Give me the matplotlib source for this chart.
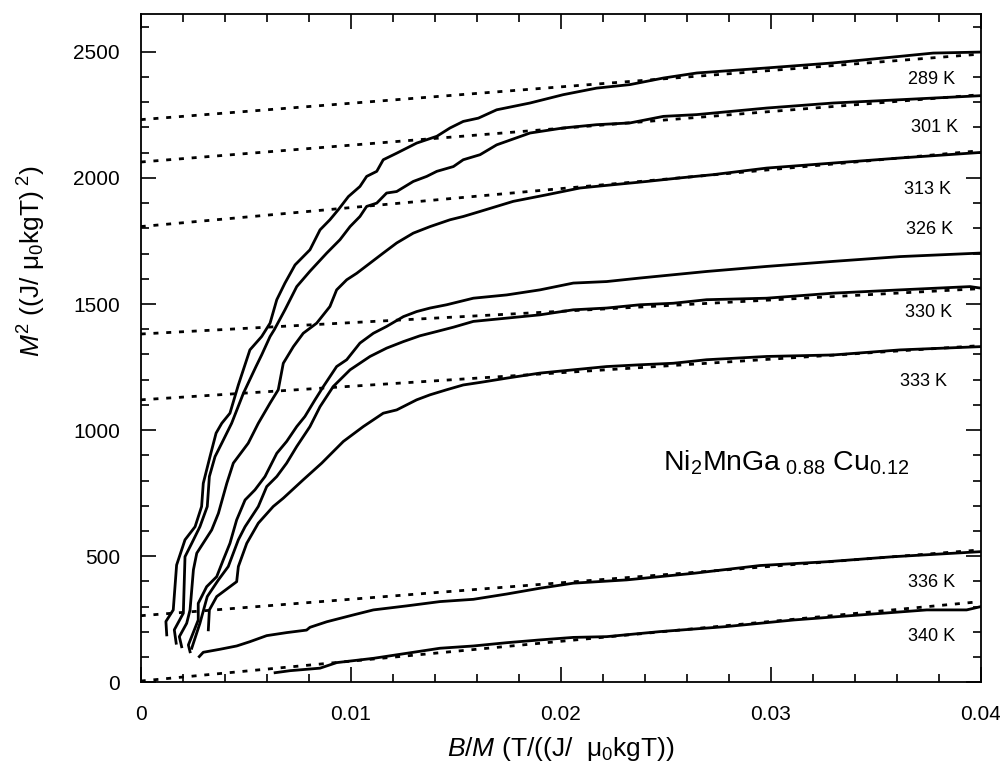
import numpy as np
import matplotlib
matplotlib.use('Agg')
import matplotlib.pyplot as plt
from matplotlib.ticker import MultipleLocator

plt.rcParams['font.family'] = ['Liberation Sans', 'DejaVu Sans']
plt.rcParams['mathtext.fontset'] = 'custom'
plt.rcParams['mathtext.rm'] = 'Liberation Sans'
plt.rcParams['mathtext.it'] = 'Liberation Sans:italic'

# measured Arrott curves  (B/M, M^2)
x289 = [0.00124, 0.00120, 0.00155, 0.00171, 0.00211, 0.00259, 0.00290, 0.00298, 0.00330, 0.00359, 0.00386,
        0.00425, 0.00465, 0.00520, 0.00576, 0.00616, 0.00648, 0.00687, 0.00735, 0.00806, 0.00854, 0.00901,
        0.00941, 0.00989, 0.01044, 0.01076, 0.01124, 0.01155, 0.01219, 0.01314, 0.01410, 0.01473, 0.01536,
        0.01608, 0.01695, 0.01854, 0.02012, 0.02171, 0.02330, 0.02489, 0.02648, 0.02981, 0.03298, 0.03616,
        0.03774, 0.04]
y289 = [188, 241, 287, 465, 565, 617, 697, 789, 895, 988, 1027, 1067, 1179, 1318, 1371, 1424, 1517, 1583, 1655,
        1715, 1794, 1834, 1874, 1926, 1966, 2006, 2026, 2072, 2098, 2138, 2165, 2198, 2224, 2237, 2270, 2297,
        2330, 2356, 2370, 2396, 2416, 2436, 2456, 2482, 2495, 2499]

x301 = [0.00169, 0.00160, 0.00203, 0.00211, 0.00243, 0.00282, 0.00317, 0.00327, 0.00354, 0.00386, 0.00433,
        0.00489, 0.00549, 0.00576, 0.00616, 0.00636, 0.00687, 0.00743, 0.00806, 0.00886, 0.00949, 0.00997,
        0.01044, 0.01076, 0.01124, 0.01171, 0.01219, 0.01298, 0.01362, 0.01410, 0.01489, 0.01536, 0.01616,
        0.01695, 0.01854, 0.02012, 0.02171, 0.02330, 0.02489, 0.02648, 0.02981, 0.03298, 0.03616, 0.04]
y301 = [155, 208, 274, 498, 551, 617, 697, 816, 895, 948, 1027, 1146, 1252, 1298, 1371, 1398, 1477, 1569, 1630,
        1702, 1755, 1807, 1847, 1887, 1900, 1940, 1946, 1986, 2006, 2026, 2045, 2072, 2092, 2131, 2178, 2198,
        2211, 2218, 2244, 2251, 2277, 2297, 2310, 2326]

x313 = [0.00195, 0.00184, 0.00219, 0.00235, 0.00251, 0.00267, 0.00338, 0.00370, 0.00410, 0.00441, 0.00512,
        0.00560, 0.00616, 0.00655, 0.00679, 0.00727, 0.00774, 0.00838, 0.00901, 0.00933, 0.00981, 0.01029,
        0.01092, 0.01155, 0.01219, 0.01298, 0.01378, 0.01473, 0.01536, 0.01616, 0.01774, 0.01933, 0.02092,
        0.02250, 0.02410, 0.02568, 0.02727, 0.02981, 0.03298, 0.03616, 0.04]
y313 = [141, 181, 234, 287, 446, 512, 604, 670, 789, 869, 948, 1027, 1107, 1160, 1265, 1331, 1384, 1424, 1490,
        1556, 1596, 1622, 1662, 1702, 1742, 1781, 1807, 1834, 1847, 1867, 1907, 1933, 1960, 1973, 1986, 2000,
        2013, 2039, 2059, 2079, 2101]

x326 = [0.00235, 0.00227, 0.00274, 0.00274, 0.00314, 0.00362, 0.00393, 0.00425, 0.00457, 0.00497, 0.00544,
        0.00592, 0.00648, 0.00695, 0.00743, 0.00782, 0.00830, 0.00870, 0.00933, 0.00981, 0.01044, 0.01108,
        0.01171, 0.01251, 0.01314, 0.01378, 0.01457, 0.01584, 0.01743, 0.01901, 0.02060, 0.02219, 0.02378,
        0.02536, 0.02695, 0.02981, 0.03298, 0.03616, 0.04]
y326 = [121, 148, 247, 313, 379, 419, 485, 551, 644, 723, 763, 816, 908, 955, 1014, 1054, 1120, 1173, 1252,
        1279, 1345, 1384, 1411, 1450, 1470, 1484, 1497, 1523, 1536, 1556, 1583, 1589, 1603, 1616, 1629, 1649,
        1669, 1688, 1702]

x330 = [0.00243, 0.00282, 0.00317, 0.00370, 0.00417, 0.00465, 0.00497, 0.00560, 0.00600, 0.00648, 0.00695,
        0.00743, 0.00806, 0.00854, 0.00917, 0.00997, 0.01092, 0.01171, 0.01251, 0.01330, 0.01410, 0.01489,
        0.01584, 0.01743, 0.01901, 0.02060, 0.02219, 0.02378, 0.02536, 0.02695, 0.02981, 0.03298, 0.03616,
        0.03949, 0.04]
y330 = [135, 234, 340, 406, 459, 565, 617, 697, 776, 816, 869, 935, 1014, 1093, 1173, 1239, 1292, 1325, 1351,
        1374, 1391, 1408, 1431, 1444, 1457, 1477, 1484, 1497, 1503, 1517, 1523, 1543, 1556, 1569, 1563]

x333 = [0.00322, 0.00327, 0.00362, 0.00457, 0.00465, 0.00505, 0.00560, 0.00631, 0.00679, 0.00774, 0.00862,
        0.00893, 0.00965, 0.01060, 0.01155, 0.01219, 0.01314, 0.01378, 0.01457, 0.01536, 0.01616, 0.01743,
        0.01901, 0.02060, 0.02219, 0.02378, 0.02536, 0.02695, 0.02981, 0.03298, 0.03616, 0.04]
y333 = [208, 287, 340, 399, 459, 551, 631, 697, 730, 803, 869, 895, 955, 1014, 1067, 1080, 1120, 1140, 1160,
        1179, 1189, 1206, 1226, 1239, 1252, 1259, 1265, 1279, 1292, 1298, 1318, 1331]

x336 = [0.00279, 0.00298, 0.00378, 0.00457, 0.00520, 0.00600, 0.00695, 0.00790, 0.00806, 0.00886, 0.01012,
        0.01108, 0.01267, 0.01425, 0.01584, 0.01743, 0.01901, 0.02060, 0.02314, 0.02631, 0.02949, 0.03267,
        0.03584, 0.04]
y336 = [102, 119, 131, 144, 161, 185, 197, 207, 218, 240, 267, 287, 303, 320, 329, 350, 373, 393, 406, 432,
        463, 478, 498, 518]

x340 = [0.00640, 0.00711, 0.00854, 0.00933, 0.01108, 0.01267, 0.01425, 0.01584, 0.01743, 0.01901, 0.02060,
        0.02219, 0.02473, 0.02790, 0.03108, 0.03425, 0.03743, 0.03933, 0.04]
y340 = [38, 46, 56, 78, 95, 115, 135, 144, 157, 168, 178, 181, 201, 221, 247, 267, 287, 287, 300]

curves = [(x289, y289), (x301, y301), (x313, y313), (x326, y326),
          (x330, y330), (x333, y333), (x336, y336), (x340, y340)]

# linear extrapolations: value at B/M = 0 and at B/M = 0.04
fit_x = [0.0, 0.04]
fit_start = [2231, 2063, 1807, 1381, 1120, 264, 5]
fit_end = [2491, 2330, 2108, 1561, 1335, 525, 320]

temps = ['289 K', '301 K', '313 K', '326 K', '330 K', '333 K', '336 K', '340 K']
label_x = [0.03768, 0.03778, 0.03745, 0.03755, 0.03750, 0.03726, 0.03768, 0.03768]
label_y = [2390, 2199, 1953, 1795, 1465, 1191, 394, 180]

fig = plt.figure(figsize=(10, 7.68), dpi=100)
ax = fig.add_axes([0.1407, 0.1116, 0.84, 0.8702])

for xs, ys in curves:
    ax.plot(xs, ys, color='black', lw=2.0, solid_joinstyle='round')

for a, b in zip(fit_start, fit_end):
    ax.plot(fit_x, [a, b], color='black', lw=2.0, linestyle=(0, (1.8, 2.8)))

for t, tx, ty in zip(temps, label_x, label_y):
    ax.text(tx, ty, t, fontsize=13, ha='center', va='center')

ax.text(0.02487, 870, r'Ni$_2$MnGa$_{\ 0.88}$ Cu$_{0.12}$', fontsize=20.5, ha='left', va='center')

ax.set_xlim(0, 0.04)
ax.set_ylim(0, 2650)
ax.xaxis.set_major_locator(MultipleLocator(0.01))
ax.xaxis.set_minor_locator(MultipleLocator(0.002))
ax.yaxis.set_major_locator(MultipleLocator(500))
ax.yaxis.set_minor_locator(MultipleLocator(100))
ax.set_xticks([0, 0.01, 0.02, 0.03, 0.04])
ax.set_xticklabels(['0', '0.01', '0.02', '0.03', '0.04'])

ax.tick_params(which='both', direction='in', top=True, right=True, width=1.2)
ax.tick_params(which='major', length=11, labelsize=15)
ax.tick_params(axis='y', which='major', pad=15)
ax.tick_params(axis='x', which='major', pad=16)
ax.tick_params(which='minor', length=6)
for s in ax.spines.values():
    s.set_linewidth(1.3)

ax.set_xlabel(r'$\it{B/M}$ (T/((J/  μ$_0$kgT))', fontsize=19, labelpad=8)
ax.set_ylabel(r'$\it{M}^{2}$ ((J/ μ$_0$kgT)$^{\ 2}$)', fontsize=19)
ax.yaxis.set_label_coords(-0.11, 0.63)

fig.savefig('out.png', dpi=100)
